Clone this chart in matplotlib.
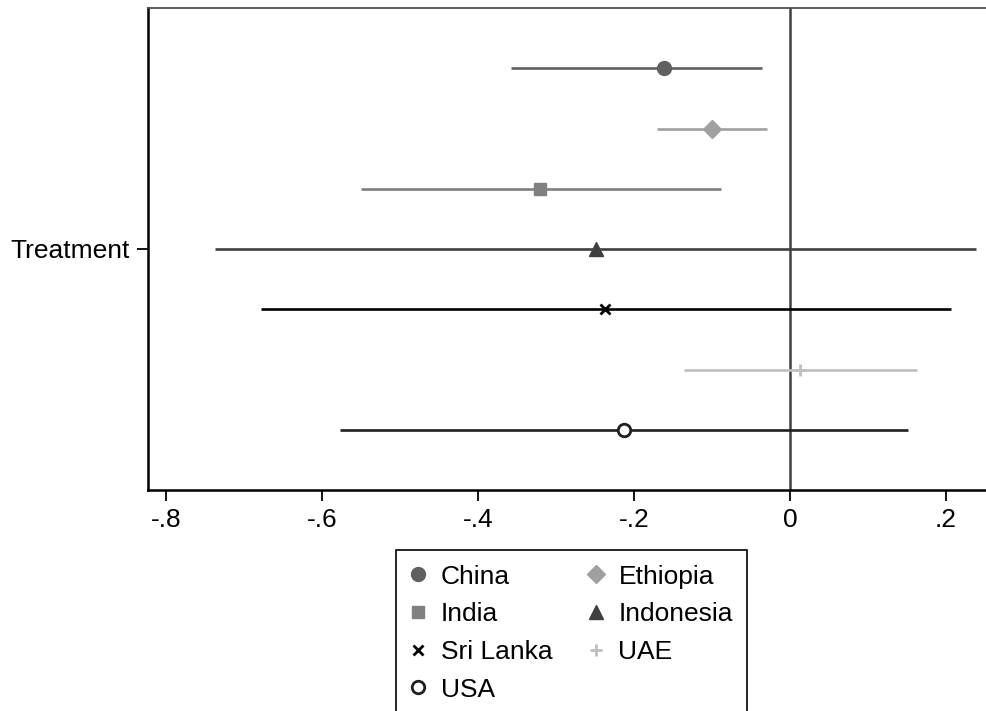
import matplotlib
matplotlib.use("Agg")
import matplotlib.pyplot as plt

# data
countries = ["China", "Ethiopia", "India", "Indonesia", "Sri Lanka", "UAE", "USA"]
estimate = [-0.162, -0.100, -0.321, -0.249, -0.237, 0.013, -0.213]
ci_low = [-0.358, -0.170, -0.550, -0.737, -0.678, -0.136, -0.577]
ci_high = [-0.036, -0.029, -0.089, 0.238, 0.206, 0.163, 0.151]
xticks = [-0.8, -0.6, -0.4, -0.2, 0.0, 0.2]
xtick_labels = ["-.8", "-.6", "-.4", "-.2", "0", ".2"]

# Stata s2mono-like styling
colors = ["#606060", "#a0a0a0", "#808080", "#404040", "#000000", "#bfbfbf", "#202020"]
markers = ["o", "D", "s", "^", "x", "+", "o"]
msizes = [10, 9, 9, 10, 7, 9, 9]
filled = [True, True, True, True, True, True, False]

plt.rcParams["font.family"] = ["Liberation Sans", "DejaVu Sans"]
plt.rcParams["font.size"] = 19

fig = plt.figure(figsize=(9.86, 7.11), dpi=100)
# axes runs past the right edge of the figure, as in the reference crop
ax = fig.add_axes([148 / 986, 1 - 490 / 711, 852 / 986, 482 / 711])

n = len(countries)
ypos = list(range(1, n + 1))
handles = {}
for i in range(n):
    ax.hlines(ypos[i], ci_low[i], ci_high[i], color=colors[i], lw=1.9, zorder=2)
    h, = ax.plot([estimate[i]], [ypos[i]], linestyle="none", marker=markers[i],
                 markersize=msizes[i], color=colors[i],
                 markerfacecolor=colors[i] if filled[i] else "white",
                 markeredgewidth=2 if markers[i] in ("x", "+") or not filled[i] else 1,
                 label=countries[i], zorder=3)
    handles[countries[i]] = h

ax.axvline(0, color="#404040", lw=1.8, zorder=1)

ax.set_xlim(-0.8231, -0.8231 + 852 / 780)
ax.set_ylim(n + 1, 0)
ax.set_xticks(xticks)
ax.set_xticklabels(xtick_labels)
ax.set_yticks([4])
ax.set_yticklabels(["Treatment"])
ax.tick_params(axis="both", length=8, width=1.3, pad=5, labelsize=19)

ax.spines["right"].set_visible(False)
ax.spines["left"].set_linewidth(1.8)
ax.spines["bottom"].set_linewidth(1.8)
ax.spines["top"].set_linewidth(1.3)
ax.spines["top"].set_color("#505050")

# legend: two columns, filled row-wise like Stata
order = ["China", "India", "Sri Lanka", "USA", "Ethiopia", "Indonesia", "UAE"]
leg = fig.legend([handles[c] for c in order], order, ncol=2,
                 loc="upper left", bbox_to_anchor=(396 / 986, 1 - 550 / 711),
                 frameon=True, fancybox=False, edgecolor="black", framealpha=1,
                 fontsize=19, handlelength=0.6, handletextpad=0.55,
                 columnspacing=1.35, labelspacing=0.52, borderpad=0.55,
                 borderaxespad=0)
leg.get_frame().set_linewidth(1.2)

fig.savefig("out.png", dpi=100)
